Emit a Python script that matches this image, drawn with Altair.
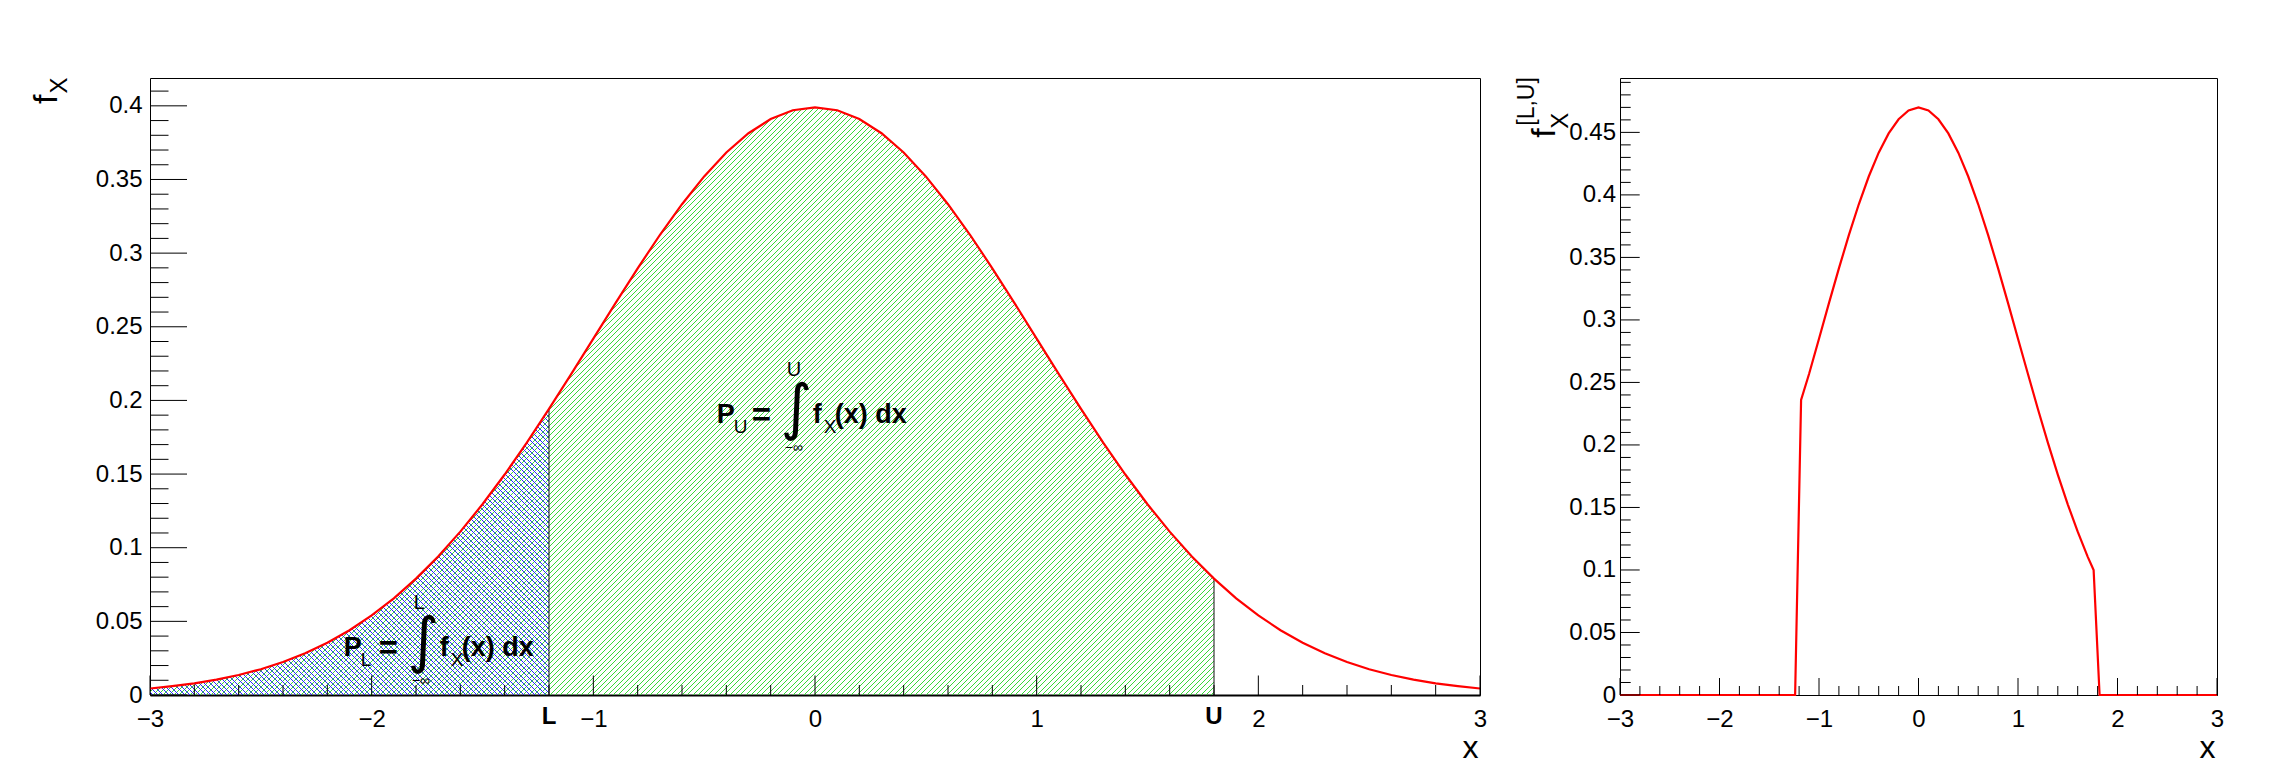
import altair as alt
import pandas as pd

# ---------------- data ----------------
X = [-3.0, -2.9, -2.8, -2.7, -2.6, -2.5, -2.4, -2.3, -2.2, -2.1,
     -2.0, -1.9, -1.8, -1.7, -1.6, -1.5, -1.4, -1.3, -1.2, -1.1,
     -1.0, -0.9, -0.8, -0.7, -0.6, -0.5, -0.4, -0.3, -0.2, -0.1,
     0.0, 0.1, 0.2, 0.3, 0.4, 0.5, 0.6, 0.7, 0.8, 0.9,
     1.0, 1.1, 1.2, 1.3, 1.4, 1.5, 1.6, 1.7, 1.8, 1.9,
     2.0, 2.1, 2.2, 2.3, 2.4, 2.5, 2.6, 2.7, 2.8, 2.9, 3.0]
FX = [0.0044, 0.0060, 0.0079, 0.0104, 0.0136, 0.0175, 0.0224, 0.0283, 0.0355, 0.0440,
      0.0540, 0.0656, 0.0790, 0.0940, 0.1109, 0.1295, 0.1497, 0.1714, 0.1942, 0.2179,
      0.2420, 0.2661, 0.2897, 0.3123, 0.3332, 0.3521, 0.3683, 0.3814, 0.3910, 0.3970,
      0.3989, 0.3970, 0.3910, 0.3814, 0.3683, 0.3521, 0.3332, 0.3123, 0.2897, 0.2661,
      0.2420, 0.2179, 0.1942, 0.1714, 0.1497, 0.1295, 0.1109, 0.0940, 0.0790, 0.0656,
      0.0540, 0.0440, 0.0355, 0.0283, 0.0224, 0.0175, 0.0136, 0.0104, 0.0079, 0.0060, 0.0044]

L_CUT = -1.2
U_CUT = 1.8
F_AT_L = 0.1942
F_AT_U = 0.0790
CUT_NAMES = ["L", "U"]

XT = [-3.0, -1.24, -1.18, -1.1, -1.0, -0.9, -0.8, -0.7, -0.6, -0.5, -0.4, -0.3, -0.2, -0.1,
      0.0, 0.1, 0.2, 0.3, 0.4, 0.5, 0.6, 0.7, 0.8, 0.9, 1.0, 1.1, 1.2, 1.3, 1.4, 1.5,
      1.6, 1.7, 1.76, 1.82, 3.0]
FT = [0.0, 0.0, 0.236, 0.2567, 0.2850, 0.3134, 0.3412, 0.3678, 0.3925, 0.4147, 0.4338, 0.4492,
      0.4605, 0.4676, 0.4699, 0.4676, 0.4605, 0.4492, 0.4338, 0.4147, 0.3925, 0.3678, 0.3412,
      0.3134, 0.2850, 0.2567, 0.2287, 0.2019, 0.1763, 0.1525, 0.1306, 0.1107, 0.100, 0.0, 0.0]

X_MAJOR = [-3, -2, -1, 0, 1, 2, 3]
Y_MAJOR_L = [0, 0.05, 0.1, 0.15, 0.2, 0.25, 0.3, 0.35, 0.4]
Y_MAJOR_R = [0, 0.05, 0.1, 0.15, 0.2, 0.25, 0.3, 0.35, 0.4, 0.45]
YMAX_L = 0.4189
YMAX_R = 0.4935

FORM_X = [-0.4435, -2.1262]
FORM_Y = [0.1849, 0.0267]
FORM_LIM = ["U", "L"]

# ---------------- layout / style ----------------
WL, WR, H = 1330, 597, 617
LS = "Liberation Sans"
RED = "#ff0000"
GREEN = "#3ad83a"
BLUE = "#2a2aff"
CLEAR = "rgba(0,0,0,0)"
LABEL_SIZE = 24

X_MINOR = [round(a + 0.2 * k, 2) for a in range(-3, 3) for k in range(1, 5)]
Y_MINOR_L = [round(0.01 * i, 2) for i in range(0, 42) if i % 5 != 0]
Y_MINOR_R = [round(0.01 * i, 2) for i in range(0, 50) if i % 5 != 0]


def hatch(W, Hh, period, thick, color, forward):
    S = W + Hh
    n = int(round(S / period))
    half = thick / S / 2.0
    stops = [alt.GradientStop(offset=0, color=CLEAR)]
    for k in range(n):
        c = (k + 0.5) / n
        a, b = round(max(c - half, 0), 6), round(min(c + half, 1), 6)
        stops += [alt.GradientStop(offset=a, color=CLEAR), alt.GradientStop(offset=a, color=color),
                  alt.GradientStop(offset=b, color=color), alt.GradientStop(offset=b, color=CLEAR)]
    stops.append(alt.GradientStop(offset=1, color=CLEAR))
    k = S * W / (W * W + Hh * Hh)
    if forward:
        return alt.LinearGradient(gradient="linear", stops=stops, x1=0, y1=0, x2=k, y2=k * Hh / W)
    return alt.LinearGradient(gradient="linear", stops=stops, x1=0, y1=1, x2=k, y2=1 - k * Hh / W)


def x_axis(W, dw):
    return alt.Axis(values=X_MAJOR, format="~g", ticks=False, grid=False, domain=True,
                    domainColor="black", domainWidth=dw, labelFont=LS, labelFontSize=LABEL_SIZE,
                    labelColor="black", labelPadding=12, labelFlush=False, labelOverlap=False,
                    title="x", titleFont=LS, titleFontSize=32, titleFontWeight="normal",
                    titleColor="black", titleAnchor="end", titleAlign="right",
                    titleBaseline="alphabetic", titleX=W - 2, titleY=62, titleAngle=0)


def y_axis(vals, pad):
    return alt.Axis(values=vals, format="~g", ticks=False, grid=False, domain=False,
                    labelFont=LS, labelFontSize=LABEL_SIZE, labelColor="black", labelPadding=pad,
                    labelFlush=False, labelOverlap=False, title=None)


def tick_layers(xs, ys, xa, ya, xmaj_len, xmin_len, ymaj_len, ymin_len, ymaj, ymin):
    out = []
    for vals, ln in ((X_MAJOR, xmaj_len), (X_MINOR, xmin_len)):
        out.append(alt.Chart(pd.DataFrame({"v": vals})).mark_rule(color="black", strokeWidth=1).encode(
            x=alt.X("v:Q", scale=xs, axis=xa), y=alt.value(H), y2=alt.value(H - ln)))
    for vals, ln in ((ymaj, ymaj_len), (ymin, ymin_len)):
        out.append(alt.Chart(pd.DataFrame({"v": vals})).mark_rule(color="black", strokeWidth=1).encode(
            y=alt.Y("v:Q", scale=ys, axis=ya), x=alt.value(0), x2=alt.value(ln)))
    return out


def vtext(txt, x, y, size):
    return alt.Chart(pd.DataFrame({"o": [0]})).mark_text(
        text=txt, angle=270, align="left", baseline="alphabetic", fontSize=size, font=LS,
        color="black").encode(x=alt.value(x), y=alt.value(y))


def spacer(x1, x2, y):
    return alt.Chart(pd.DataFrame({"o": [0]})).mark_rule(color="white", strokeOpacity=0).encode(
        x=alt.value(x1), x2=alt.value(x2), y=alt.value(y))


# ---------------- left panel ----------------
xs_l = alt.Scale(domain=[-3, 3], nice=False, zero=False)
ys_l = alt.Scale(domain=[0, YMAX_L], nice=False, zero=False)
xa_l = x_axis(WL, 2)
ya_l = y_axis(Y_MAJOR_L, 8)

curve = pd.DataFrame({"x": X, "y": FX})
green_df = curve[curve.x <= U_CUT + 1e-9]
blue_df = curve[curve.x <= L_CUT + 1e-9]

gW = (U_CUT + 3) / 6 * WL
gH = green_df.y.max() / YMAX_L * H
bW = (L_CUT + 3) / 6 * WL
bH = blue_df.y.max() / YMAX_L * H


def XL(f):
    return alt.X(f, scale=xs_l, axis=xa_l)


def YL(f):
    return alt.Y(f, scale=ys_l, axis=ya_l)


green = alt.Chart(green_df).mark_area(fill=hatch(gW, gH, 5.3, 1.0, GREEN, True)).encode(
    x=XL("x:Q"), y=YL("y:Q"), y2=alt.datum(0))
blue = alt.Chart(blue_df).mark_area(fill=hatch(bW, bH, 5.3, 1.0, BLUE, False)).encode(
    x=XL("x:Q"), y=YL("y:Q"), y2=alt.datum(0))

cuts_df = pd.DataFrame({"c": [L_CUT, U_CUT], "f": [F_AT_L, F_AT_U], "n": CUT_NAMES, "z": [0, 0]})
cut_lines = alt.Chart(cuts_df).mark_rule(color="#111111", strokeWidth=1).encode(
    x=XL("c:Q"), y=YL("f:Q"), y2=alt.datum(0))
cut_labels = alt.Chart(cuts_df).mark_text(
    fontSize=24, fontWeight="bold", font=LS, align="center", baseline="alphabetic", dy=29,
    color="black").encode(x=XL("c:Q"), y=YL("z:Q"), text="n:N")

line_l = alt.Chart(curve).mark_line(color=RED, strokeWidth=2.2).encode(x=XL("x:Q"), y=YL("y:Q"))

form_df = pd.DataFrame({"ax": FORM_X, "ay": FORM_Y, "lim": FORM_LIM})
PIECES = [
    ("P", 0, 0, 27, "bold", LS),
    (None, 17, 10, 19, "normal", LS),
    ("=", 35, 3, 33, "bold", LS),
    ("\u222b", 64, 5, 61, "normal", "DejaVu Sans"),
    (None, 70, -47, 20, "normal", LS),
    ("\u2212\u221e", 68, 29, 14, "normal", LS),
    ("f", 96, 0, 27, "bold", LS),
    ("X", 107, 10, 19, "normal", LS),
    ("(x) dx", 118, 0, 27, "bold", LS),
]
formula = []
for txt, dx, dy, size, weight, font in PIECES:
    kw = dict(dx=dx, dy=dy, fontSize=size, fontWeight=weight, font=font, align="left",
              baseline="alphabetic", color="black")
    enc = dict(x=XL("ax:Q"), y=YL("ay:Q"))
    if txt is None:
        formula.append(alt.Chart(form_df).mark_text(**kw).encode(text="lim:N", **enc))
    else:
        formula.append(alt.Chart(form_df).mark_text(text=txt, **kw).encode(**enc))

left = alt.layer(
    green, blue, cut_lines, line_l,
    *tick_layers(xs_l, ys_l, xa_l, ya_l, 19.5, 10, 37, 18.5, Y_MAJOR_L, Y_MINOR_L),
    cut_labels, *formula,
    vtext("f", -93, 26, 34), vtext("X", -83, 15.5, 24),
    spacer(-125, WL + 10, -12),
).properties(width=WL, height=H)

# ---------------- right panel ----------------
xs_r = alt.Scale(domain=[-3, 3], nice=False, zero=False)
ys_r = alt.Scale(domain=[0, YMAX_R], nice=False, zero=False)
xa_r = x_axis(WR, 1)
ya_r = y_axis(Y_MAJOR_R, 4.5)
trunc = pd.DataFrame({"x": XT, "y": FT})

line_r = alt.Chart(trunc).mark_line(color=RED, strokeWidth=2.2).encode(
    x=alt.X("x:Q", scale=xs_r, axis=xa_r), y=alt.Y("y:Q", scale=ys_r, axis=ya_r))

right = alt.layer(
    line_r,
    *tick_layers(xs_r, ys_r, xa_r, ya_r, 17, 9, 19.7, 10.7, Y_MAJOR_R, Y_MINOR_R),
    vtext("[L,U]", -86.5, 47.7, 23), vtext("f", -65.5, 59.7, 34), vtext("X", -52.5, 50.7, 24),
    spacer(-110, WR, -12),
).properties(width=WR, height=H)

chart = alt.hconcat(left, right, spacing=18).configure_view(
    stroke="black", strokeWidth=1
).properties(padding={"left": 16, "top": 57, "right": 5, "bottom": 0}, background="white")

chart.save("out.html", embed_options={"renderer": "svg", "actions": False})
